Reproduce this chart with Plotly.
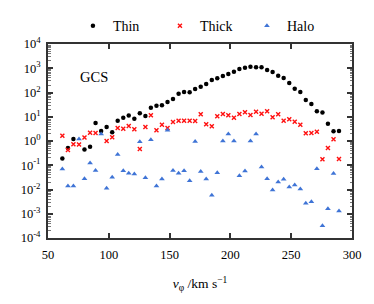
import plotly.graph_objects as go

v_phi = [61.8, 66.4, 70.9, 75.5, 80.0, 84.6, 89.1, 93.7, 98.2, 102.8,
         107.3, 111.9, 116.4, 121.0, 125.5, 130.1, 134.6, 139.2, 143.7, 148.3,
         152.8, 157.4, 161.9, 166.5, 171.0, 175.6, 180.1, 184.7, 189.2, 193.8,
         198.3, 202.9, 207.4, 212.0, 216.5, 221.1, 225.6, 230.2, 234.7, 239.3,
         243.8, 248.4, 252.9, 257.5, 262.0, 266.6, 271.1, 275.7, 280.2, 284.8, 289.3]

thin = [0.19, 0.52, 1.2, None, 0.45, 0.58, 5.5, 2.6, 3.8, 2.3,
        6.8, 9.1, 11.3, 8.2, 13.9, 10.7, 23.6, 28.6, 29.6, 40.6,
        54, 89, 105, 102, 139, 173, 226, 327, 385, 479,
        579, 721, 931, 1054, 1159, 1094, 1094, 847, 700, 493,
        396, 247, 144, 105, 49, 33.6, 16.8, 15.0, 5.2, 2.5, 2.6]

thick = [1.66, 0.43, 0.73, 0.72, 1.39, 2.18, 2.14, None, 1.0, 1.42,
         3.44, 3.21, 4.16, 3.07, 0.47, 3.78, 11.5, 2.76, 4.70, 3.44,
         6.08, 6.87, 6.87, 6.87, 6.68, 12.6, 4.89, 4.04, 10.4, 13.0,
         11.5, 9.14, 13.0, 15.3, 11.8, 16.1, 13.4, 16.8, 9.48, 12.6,
         6.81, 7.85, 6.25, 4.70, 2.08, 2.14, 2.42, 0.177, 0.514, 1.19, 0.181]

halo = [0.070, 0.0139, 0.0139, 1.21, 0.0279, 0.124, 0.0608, 1.95, 0.0112, 0.0318,
        0.277, 0.0596, 0.047, 0.0436, 0.935, 0.0307, 1.13, 0.0139, 0.0271, 2.79,
        0.0608, 0.0466, 0.059, 0.0231, 0.953, 0.0552, 0.0271, 0.00577, 0.0493, 1.0,
        1.95, 1.0, 0.0371, 0.0579, 1.0, 1.95, 0.0847, 0.0279, 0.00953, 0.0204,
        0.0264, 0.0127, 0.0153, 0.0105, 0.0027, 0.00314, 0.0721, 0.000321, 0.00161, 0.0457, 0.0013]

x_ticks = [50, 100, 150, 200, 250, 300]
y_exps = [-4, -3, -2, -1, 0, 1, 2, 3, 4]
y_ticks = [10.0 ** e for e in y_exps]
y_ticktext = ["10<sup>%d</sup>" % e for e in y_exps]
y_minor = [m * 10.0 ** e for e in y_exps[:-1] for m in range(2, 10)]

serif = "Liberation Serif"
axis_col = "#333333"

fig = go.Figure()
fig.add_trace(go.Scatter(x=v_phi, y=thin, mode="markers", name="Thin",
                         marker=dict(symbol="circle", size=4.5, color="black")))
fig.add_trace(go.Scatter(x=v_phi, y=thick, mode="markers", name="Thick",
                         marker=dict(symbol="x-thin", size=4, color="#ff1010",
                                     line=dict(width=1.4, color="#ff1010"))))
fig.add_trace(go.Scatter(x=v_phi, y=halo, mode="markers", name="Halo",
                         marker=dict(symbol="triangle-up", size=5, color="#3f74d6")))

fig.add_annotation(x=0.099, y=0.83, xref="paper", yref="paper", text="GCS",
                   showarrow=False, xanchor="left", yanchor="middle",
                   font=dict(family=serif, size=14.5, color="black"))

# page body has an 8px margin, so the figure is laid out 8px smaller and shifted
fig.update_layout(
    width=366, height=296,
    margin=dict(l=40, r=22, t=36, b=66, autoexpand=False),
    paper_bgcolor="white", plot_bgcolor="white",
    font=dict(family=serif, size=12.5, color="black"),
    showlegend=True,
    legend=dict(orientation="h", x=0.082, y=1.01, xanchor="left", yanchor="bottom",
                font=dict(family=serif, size=14), entrywidth=42,
                bgcolor="rgba(0,0,0,0)", itemclick=False),
    xaxis=dict(range=[50, 300], tickvals=x_ticks, ticks="inside", ticklen=5,
               tickwidth=1.5, tickcolor=axis_col, showline=True, linewidth=2,
               linecolor=axis_col, mirror="ticks", showgrid=False, zeroline=False,
               ticklabelstandoff=4,
               title=dict(text="<i>v</i><sub>φ</sub> /km s<sup>−1</sup>",
                          font=dict(family=serif, size=13.5), standoff=18)),
    yaxis=dict(type="log", range=[-4, 4], tickvals=y_ticks, ticktext=y_ticktext,
               ticks="inside", ticklen=5, tickwidth=1.5, tickcolor=axis_col,
               showline=True, linewidth=2, linecolor=axis_col, mirror="ticks",
               showgrid=False, zeroline=False, ticklabelstandoff=3,
               minor=dict(tickvals=y_minor, ticks="inside", ticklen=2.5,
                          tickcolor="#777777", tickwidth=1, showgrid=False)),
)

fig.write_html("out.html")
